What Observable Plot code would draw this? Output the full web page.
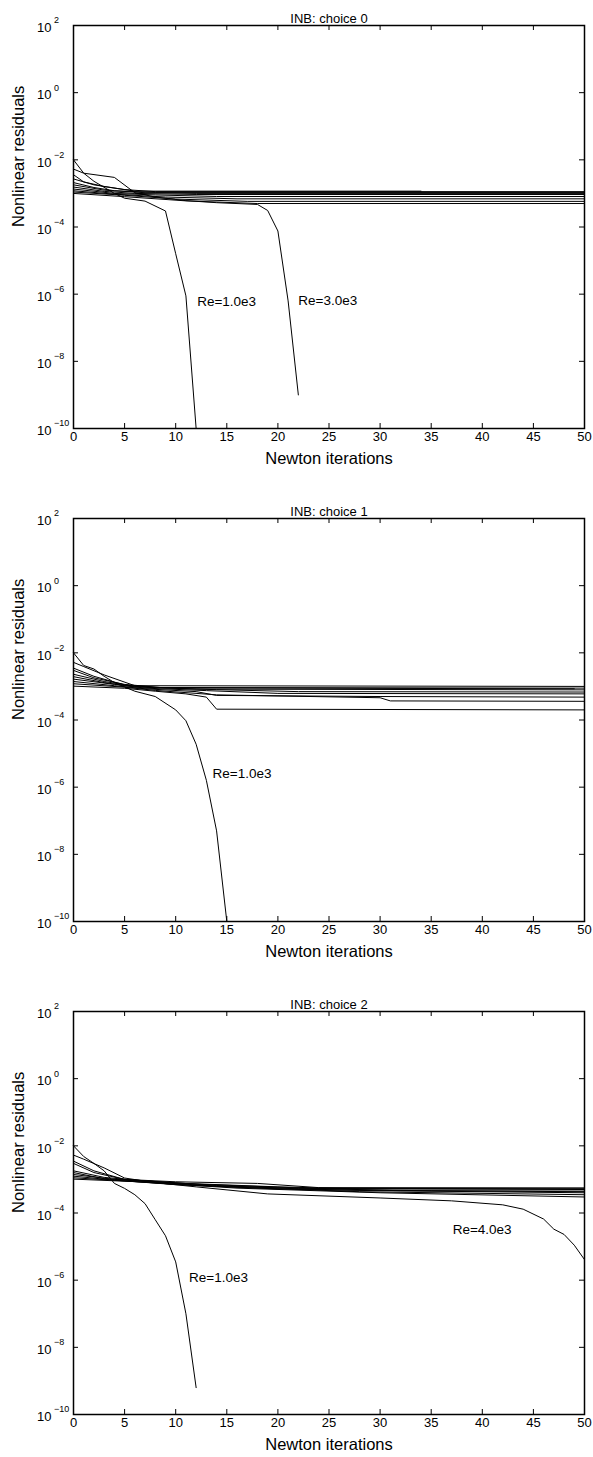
<!DOCTYPE html>
<html><head><meta charset="utf-8">
<script src="https://cdn.jsdelivr.net/npm/d3@7"></script>
<script src="https://cdn.jsdelivr.net/npm/@observablehq/plot@0.6"></script>
<style>
html,body{margin:0;padding:0;background:#fff;overflow:hidden;}
#chart svg{display:block;}
</style></head><body><div id="chart"></div>
<script>
// ---- tick data ----
const xTicks = [0, 5, 10, 15, 20, 25, 30, 35, 40, 45, 50];
const yTickExponents = [2, 0, -2, -4, -6, -8, -10];
const titles = ["INB: choice 0", "INB: choice 1", "INB: choice 2"];
const xLabel = "Newton iterations";
const yLabel = "Nonlinear residuals";

// ---- INB: choice 0 ----
const choice0Iter = [
  [0, 1, 2, 4, 5, 7, 9, 10, 11, 12],
  [0, 1, 4, 6, 8, 11, 14, 18, 19, 20, 21, 22],
  [0, 1, 3, 6, 34],
  [0, 2, 5, 8, 50],
  [0, 2, 4, 8, 50],
  [0, 3, 7, 12, 50],
  [0, 3, 6, 12, 50],
  [0, 4, 8, 14, 50],
  [0, 4, 9, 16, 50],
  [0, 5, 10, 17, 50],
  [0, 5, 11, 18, 50]
];
const choice0Res = [
  [1.0e-2, 4.0e-3, 2.3e-3, 1.0e-3, 7.2e-4, 5.9e-4, 3.0e-4, 1.6e-5, 8.9e-7, 1.0e-10],
  [5.3e-3, 4.0e-3, 3.0e-3, 1.05e-3, 7.8e-4, 6.1e-4, 5.3e-4, 4.7e-4, 3.1e-4, 7.6e-5, 6.3e-7, 1.0e-9],
  [3.6e-3, 2.2e-3, 1.6e-3, 1.17e-3, 1.17e-3],
  [2.7e-3, 1.8e-3, 1.3e-3, 1.13e-3, 1.13e-3],
  [2.1e-3, 1.5e-3, 1.2e-3, 1.07e-3, 1.07e-3],
  [1.8e-3, 1.25e-3, 1.05e-3, 1.0e-3, 1.0e-3],
  [1.55e-3, 1.15e-3, 1.0e-3, 9.3e-4, 9.3e-4],
  [1.35e-3, 1.0e-3, 9.0e-4, 8.1e-4, 8.1e-4],
  [1.2e-3, 9.5e-4, 7.8e-4, 6.9e-4, 6.9e-4],
  [1.1e-3, 8.8e-4, 6.8e-4, 5.8e-4, 5.8e-4],
  [1.0e-3, 8.0e-4, 6.0e-4, 5.0e-4, 5.0e-4]
];
const choice0LabelText = ["Re=1.0e3", "Re=3.0e3"];
const choice0LabelX = [12.1, 22.0];
const choice0LabelY = [5.8e-7, 6.3e-7];

// ---- INB: choice 1 ----
const choice1Iter = [
  [0, 1, 2, 3, 4, 6, 8, 10, 11, 12, 13, 14, 15],
  [0, 1, 3, 6, 50],
  [0, 2, 5, 8, 50],
  [0, 2, 5, 9, 49],
  [0, 3, 6, 12, 50],
  [0, 3, 6, 14, 22, 50],
  [0, 4, 7, 13, 20, 50],
  [0, 4, 7, 12, 14, 30, 50],
  [0, 5, 8, 14, 30, 31, 50],
  [0, 5, 8, 11, 13, 14, 50]
];
const choice1Res = [
  [1.0e-2, 4.2e-3, 3.3e-3, 2.0e-3, 1.3e-3, 7.2e-4, 5.0e-4, 2.0e-4, 9.5e-5, 1.9e-5, 1.6e-6, 5.0e-8, 1.0e-10],
  [5.2e-3, 3.9e-3, 2.2e-3, 1.05e-3, 1.0e-3],
  [3.5e-3, 2.0e-3, 1.1e-3, 9.3e-4, 8.9e-4],
  [3.0e-3, 1.8e-3, 1.15e-3, 9.0e-4, 8.5e-4],
  [2.3e-3, 1.4e-3, 1.0e-3, 8.3e-4, 7.9e-4],
  [1.95e-3, 1.3e-3, 9.6e-4, 8.0e-4, 7.0e-4, 6.8e-4],
  [1.65e-3, 1.15e-3, 8.9e-4, 7.5e-4, 6.2e-4, 6.0e-4],
  [1.4e-3, 1.05e-3, 8.5e-4, 7.0e-4, 5.4e-4, 5.0e-4, 4.8e-4],
  [1.2e-3, 9.5e-4, 7.6e-4, 5.6e-4, 4.6e-4, 3.7e-4, 3.6e-4],
  [1.02e-3, 8.8e-4, 7.2e-4, 6.0e-4, 4.8e-4, 2.1e-4, 2.0e-4]
];
const choice1LabelText = ["Re=1.0e3"];
const choice1LabelX = [13.6];
const choice1LabelY = [2.5e-6];

// ---- INB: choice 2 ----
const choice2Iter = [
  [0, 1, 2, 3, 4, 5, 6, 7, 8, 9, 10, 11, 12],
  [0, 1, 3, 5, 8, 12, 19, 30, 37, 42, 44, 46, 47, 48, 49, 50],
  [0, 2, 5, 10, 18, 24, 50],
  [0, 2, 5, 10, 20, 28, 50],
  [0, 3, 6, 12, 22, 32, 50],
  [0, 3, 7, 14, 25, 50],
  [0, 4, 8, 15, 28, 50],
  [0, 4, 9, 16, 30, 50],
  [0, 5, 10, 20, 35, 50],
  [0, 6, 12, 22, 50]
];
const choice2Res = [
  [1.0e-2, 4.8e-3, 3.0e-3, 1.8e-3, 7.6e-4, 5.4e-4, 3.5e-4, 1.9e-4, 6.3e-5, 2.1e-5, 3.5e-6, 1.0e-7, 6.3e-10],
  [5.3e-3, 4.0e-3, 2.2e-3, 1.1e-3, 8.0e-4, 6.0e-4, 3.7e-4, 2.8e-4, 2.3e-4, 1.75e-4, 1.3e-4, 6.6e-5, 3.3e-5, 2.3e-5, 1.1e-5, 4.1e-6],
  [3.5e-3, 1.8e-3, 1.0e-3, 8.5e-4, 7.6e-4, 5.7e-4, 5.6e-4],
  [3.0e-3, 1.6e-3, 1.0e-3, 7.8e-4, 6.0e-4, 5.2e-4, 5.0e-4],
  [1.8e-3, 1.15e-3, 9.5e-4, 7.2e-4, 5.6e-4, 4.6e-4, 4.5e-4],
  [1.6e-3, 1.05e-3, 9.0e-4, 6.6e-4, 4.8e-4, 4.0e-4],
  [1.4e-3, 1.0e-3, 8.2e-4, 6.0e-4, 4.3e-4, 3.5e-4],
  [1.25e-3, 9.5e-4, 7.5e-4, 5.5e-4, 4.0e-4, 3.0e-4],
  [1.12e-3, 9.0e-4, 7.0e-4, 5.2e-4, 4.6e-4, 4.3e-4],
  [1.02e-3, 8.6e-4, 6.6e-4, 5.4e-4, 5.3e-4]
];
const choice2LabelText = ["Re=1.0e3", "Re=4.0e3"];
const choice2LabelX = [11.3, 37.1];
const choice2LabelY = [1.2e-6, 3.1e-5];

// ---- drawing ----
const yTickValues = yTickExponents.map(e => Math.pow(10, e));
const FONT = "'Liberation Sans', Arial, Helvetica, sans-serif";

function panel(title, iters, res, labText, labX, labY, height, marginBottom) {
  const rows = [];
  iters.forEach((xs, i) => xs.forEach((x, j) => rows.push({series: i, x: x, y: res[i][j]})));
  const labels = labText.map((t, i) => ({text: t, x: labX[i], y: labY[i]}));
  const marginTop = 25, marginLeft = 73, marginRight = 9, width = 593;
  const plotH = height - marginTop - marginBottom;
  const plotW = width - marginLeft - marginRight;
  return Plot.plot({
    width, height, marginTop, marginBottom, marginLeft, marginRight,
    style: {fontFamily: FONT, fontSize: "13px", background: "white", color: "black", overflow: "visible"},
    x: {domain: [0, 50], axis: null},
    y: {type: "log", domain: [1e-10, 1e2], axis: null},
    marks: [
      Plot.line(rows, {x: "x", y: "y", z: "series", stroke: "black", strokeWidth: 1}),
      Plot.tickX(xTicks, {x: d => d, insetTop: plotH - 5, stroke: "black"}),
      Plot.tickX(xTicks, {x: d => d, insetBottom: plotH - 5, stroke: "black"}),
      Plot.tickY(yTickValues, {y: d => d, insetRight: plotW - 5, stroke: "black"}),
      Plot.tickY(yTickValues, {y: d => d, insetLeft: plotW - 5, stroke: "black"}),
      Plot.frame({stroke: "black", strokeWidth: 1.5}),
      Plot.text(xTicks, {x: d => d, frameAnchor: "bottom", dy: 12, text: d => String(d), fontSize: 13}),
      Plot.text(yTickValues, {y: d => d, frameAnchor: "left", dx: -22, dy: 2.5, text: () => "10", textAnchor: "end", fontSize: 13}),
      Plot.text(yTickExponents, {y: d => Math.pow(10, d), frameAnchor: "left", dx: -19.5, dy: -5,
        text: d => d < 0 ? "\u2212" + (-d) : String(d), textAnchor: "start", fontSize: 9}),
      Plot.text(labels, {x: "x", y: "y", text: "text", textAnchor: "start", fontSize: 13.5}),
      Plot.text([title], {frameAnchor: "top", dy: -12, fontSize: 13}),
      Plot.text([xLabel], {frameAnchor: "bottom", dy: 35, fontSize: 16.5}),
      Plot.text([yLabel], {frameAnchor: "left", dx: -55, rotate: -90, fontSize: 16.5})
    ]
  });
}

const root = document.getElementById("chart");
root.appendChild(panel(titles[0], choice0Iter, choice0Res, choice0LabelText, choice0LabelX, choice0LabelY, 493, 65));
root.appendChild(panel(titles[1], choice1Iter, choice1Res, choice1LabelText, choice1LabelX, choice1LabelY, 493, 65));
root.appendChild(panel(titles[2], choice2Iter, choice2Res, choice2LabelText, choice2LabelX, choice2LabelY, 471, 43));
</script>
</body></html>
